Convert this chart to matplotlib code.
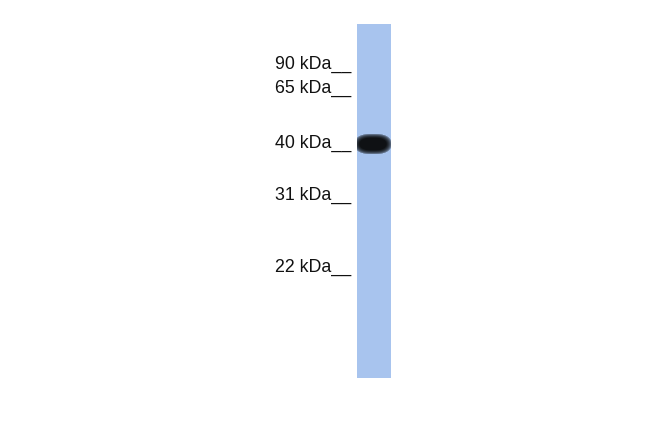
import numpy as np
import matplotlib
matplotlib.use('Agg')
import matplotlib.pyplot as plt

# marker ladder (kDa) and baseline of each label in pixels
marker_kda = [90, 65, 40, 31, 22]
marker_y = [69, 93, 148, 200, 272]

# lane geometry and the single detected band
lane_x = (357, 391)
lane_y = (24, 378)
band_y = 144
band_halfheight = 8
band_x = (357, 389)
band_strength = 1.0

lane_rgb = np.array([0.660, 0.772, 0.935])

fig = plt.figure(figsize=(6.5, 4.33), dpi=100)
ax = fig.add_axes([0, 0, 1, 1])
ax.set_xlim(0, 650)
ax.set_ylim(433, 0)
ax.axis('off')

# build lane image
h = lane_y[1] - lane_y[0]
w = lane_x[1] - lane_x[0]
yy, xx = np.mgrid[0:h, 0:w]
yy = yy + lane_y[0] + 0.5
xx = xx + lane_x[0] + 0.5
cx = (band_x[0] + band_x[1]) / 2
rx = (band_x[1] - band_x[0]) / 2
# superellipse so the band has a flat dark core with rounded ends
d = np.abs((xx - cx) / rx) ** 3 + np.abs((yy - band_y) / band_halfheight) ** 2
dark = band_strength * np.clip(1.5 - 0.9 * d, 0, 1) ** 0.5
dark = np.clip(dark, 0, 1)
band_rgb = np.array([0.06, 0.07, 0.08])
img = lane_rgb[None, None, :] * (1 - dark[..., None]) + band_rgb[None, None, :] * dark[..., None]
ax.imshow(img, extent=(lane_x[0], lane_x[1], lane_y[1], lane_y[0]),
          interpolation='bilinear', aspect='auto')

for kda, y in zip(marker_kda, marker_y):
    ax.text(351, y, '%d kDa__' % kda, ha='right', va='baseline',
            fontsize=12.8, family='Liberation Sans', color='#111111')

fig.savefig('out.png', dpi=100)
